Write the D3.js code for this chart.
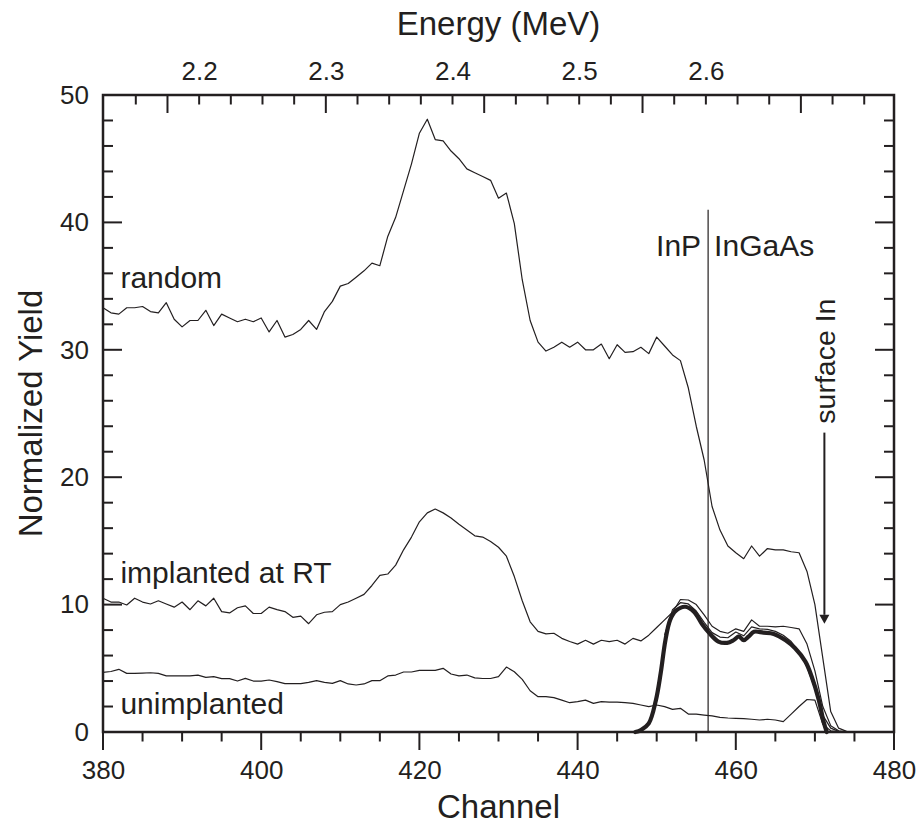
<!DOCTYPE html>
<html>
<head>
<meta charset="utf-8">
<script src="https://cdn.jsdelivr.net/npm/d3@7"></script>
<style>
  body { margin: 0; background: #fff; }
  text { font-family: "Liberation Sans", Arial, Helvetica, sans-serif; fill: #231f20; }
</style>
</head>
<body>
<div id="visual"></div>
<script>
// channels 380..475, one point per channel
let channels = d3.range(380, 476);

let randomYield = [
    33.3, 32.9, 32.8, 33.3, 33.3, 33.4, 33.0, 32.9, 33.7, 32.4,
    31.8, 32.3, 32.3, 33.1, 31.9, 32.8, 32.5, 32.2, 32.4, 32.2,
    32.5, 31.4, 32.3, 31.0, 31.2, 31.6, 32.3, 31.6, 33.0, 33.8,
    35.0, 35.2, 35.7, 36.2, 36.8, 36.6, 38.9, 40.4, 42.5, 44.6,
    47.0, 48.1, 46.5, 46.4, 45.6, 45.0, 44.2, 43.9, 43.6, 43.3,
    41.9, 42.3, 39.9, 35.5, 32.3, 30.6, 29.9, 30.2, 30.6, 30.2,
    30.6, 30.0, 30.0, 30.45, 29.3, 30.4, 29.8, 29.85, 30.2, 29.7,
    31.0, 30.3, 29.6, 29.15, 27.0, 24.0, 21.35, 17.7, 15.85, 14.6,
    14.07, 13.6, 14.6, 13.8, 14.4, 14.3, 14.3, 14.15, 14.07, 12.6,
    10.0, 5.8, 1.6, 0.3, 0.05, 0.0
];

let implantedYield = [
    10.5, 10.2, 10.2, 9.97, 10.5, 10.2, 10.05, 10.3, 10.05, 9.8,
    10.2, 9.6, 10.3, 9.9, 10.5, 9.45, 9.35, 9.75, 9.9, 9.3,
    9.3, 9.8, 9.6, 9.45, 9.0, 9.1, 8.5, 9.2, 9.4, 9.45,
    10.0, 10.2, 10.5, 10.8, 11.5, 12.3, 12.4, 13.1, 14.3, 15.3,
    16.5, 17.2, 17.5, 17.2, 16.8, 16.3, 15.85, 15.4, 15.3, 14.95,
    14.5, 13.8, 12.2, 10.3, 8.65, 7.9, 7.7, 7.75, 7.35, 7.1,
    6.9, 7.2, 6.9, 7.2, 7.1, 7.2, 6.9, 7.35, 7.15, 7.6,
    8.2, 8.8, 9.4, 10.4, 10.36, 10.0, 9.2, 8.3, 7.9, 7.75,
    8.1, 7.9, 8.8, 8.3, 8.3, 8.25, 8.3, 8.2, 8.1, 6.9,
    4.8, 2.0, 0.5, 0.1, 0.02, 0.0
];

let unimplantedYield = [
    4.68, 4.75, 4.92, 4.6, 4.6, 4.62, 4.65, 4.6, 4.4, 4.4,
    4.4, 4.4, 4.47, 4.29, 4.34, 4.19, 4.19, 4.0, 4.21, 4.0,
    4.0, 4.08, 3.95, 3.8, 3.79, 3.79, 3.9, 4.03, 3.9, 3.82,
    4.03, 3.77, 3.69, 3.77, 4.03, 4.03, 4.4, 4.47, 4.71, 4.71,
    4.84, 4.84, 4.84, 5.0, 4.55, 4.4, 4.47, 4.25, 4.2, 4.2,
    4.34, 5.1, 4.73, 4.13, 3.24, 2.77, 2.77, 2.7, 2.5, 2.3,
    2.38, 2.5, 2.25, 2.38, 2.35, 2.35, 2.3, 2.25, 2.12, 1.99,
    2.12, 1.99, 1.78, 1.86, 1.41, 1.41, 1.33, 1.26, 1.15, 1.1,
    1.07, 1.05, 1.0, 0.94, 1.0, 0.94, 0.81, 1.4, 2.0, 2.55,
    2.5, 0.6, 0.1, 0.02, 0.0, 0.0
];

// second thin curve hugging the thick one (channels 451..474)
let hugChannels = d3.range(451, 475);
let hugYield = [
    7.6, 9.6, 10.15, 10.05, 9.5, 8.6, 7.8, 7.45, 7.4, 7.85,
    7.55, 8.25, 8.1, 8.05, 7.9, 7.6, 7.1, 6.3, 5.1, 3.4,
    1.3, 0.3, 0.05, 0.0
];

// thick smooth curve
let thickChannels = [447.3, 448.0, 449.0, 449.9, 450.5, 451.1, 451.7, 452.4, 453.6, 454.7,
    455.7, 456.6, 457.8, 458.9, 459.7, 460.4, 461.0, 461.6, 462.3, 463.5,
    464.8, 466.3, 467.5, 468.8, 469.6, 470.5, 471.1, 471.5];
let thickYield = [0.0, 0.15, 0.68, 2.5, 4.6, 7.2, 8.8, 9.5, 9.83, 9.45,
    8.5, 7.8, 7.1, 7.0, 7.2, 7.5, 7.2, 7.48, 7.87, 7.8,
    7.7, 7.2, 6.57, 5.52, 4.34, 2.5, 0.8, 0.0];

// axis ticks
let channelLabels = [380, 400, 420, 440, 460, 480];
let channelMinor = d3.range(380, 481, 5);
let yieldLabels = [0, 10, 20, 30, 40, 50];
let yieldMinor = d3.range(0, 51, 2);
let energyLabels = [2.2, 2.3, 2.4, 2.5, 2.6];
let energyLong = [2.175, 2.3, 2.425, 2.55, 2.675];
let energyMinor = d3.range(2.15, 2.74, 0.025);
let energyRange = [2.1241, 2.7485]; // energy at channel 380 and 480

function rbsChart() {
    let width = 921,
        height = 829,
        margin = {top: 95, right: 27, bottom: 97, left: 103};
    const INK = "#231f20";

    let chart = function chart(selector) {
        let svg = d3.select(selector)
            .append("svg")
            .attr("width", width)
            .attr("height", height);

        let x = d3.scaleLinear().domain([380, 480]).range([margin.left, width - margin.right]);
        let y = d3.scaleLinear().domain([0, 50]).range([height - margin.bottom, margin.top]);
        let xE = d3.scaleLinear().domain(energyRange).range(x.range());

        let x0 = x.range()[0], x1 = x.range()[1], y0 = y.range()[0], y1 = y.range()[1];

        // tick labels through d3 axes (no tick lines here)
        function drawLabels(axis, tx, ty) {
            let g = svg.append("g")
                .attr("transform", "translate(" + tx + "," + ty + ")")
                .call(axis);
            g.select(".domain").remove();
            g.selectAll(".tick line").remove();
            g.selectAll(".tick text")
                .attr("fill", INK)
                .style("font-size", "26px")
                .style("font-family", "'Liberation Sans', Arial, sans-serif");
        }
        drawLabels(d3.axisBottom(x).tickValues(channelLabels).tickSize(18).tickPadding(10.5)
            .tickFormat(d3.format("d")), 0, y0);
        drawLabels(d3.axisLeft(y).tickValues(yieldLabels).tickSize(-19).tickPadding(14)
            .tickFormat(d3.format("d")), x0, 0);
        drawLabels(d3.axisTop(xE).tickValues(energyLabels).tickSize(0).tickPadding(15)
            .tickFormat(d3.format(".1f")), 0, y1);

        // frame
        svg.append("rect")
            .attr("x", x0).attr("y", y1)
            .attr("width", x1 - x0).attr("height", y0 - y1)
            .attr("fill", "none")
            .attr("stroke", INK)
            .attr("stroke-width", 2.5);

        // tick marks, drawn on top of the frame
        function tick(xa, ya, xb, yb) {
            svg.append("line")
                .attr("x1", xa).attr("y1", ya).attr("x2", xb).attr("y2", yb)
                .attr("stroke", INK)
                .attr("stroke-width", 2);
        }
        channelMinor.forEach(function (c) {
            tick(x(c), y0, x(c), y0 + (channelLabels.indexOf(c) >= 0 ? 18 : 9.5));
        });
        yieldMinor.forEach(function (v) {
            let len = yieldLabels.indexOf(v) >= 0 ? 19 : 10;
            tick(x0, y(v), x0 + len, y(v));
            tick(x1, y(v), x1 - len, y(v));
        });
        energyMinor.forEach(function (e) {
            let isLong = energyLong.some(function (l) { return Math.abs(l - e) < 1e-6; });
            tick(xE(e), y1, xE(e), y1 + (isLong ? 18 : 9.5));
        });

        // axis titles
        let cx = (x0 + x1) / 2;
        svg.append("text").attr("x", cx).attr("y", 35).attr("text-anchor", "middle")
            .style("font-size", "33px").text("Energy (MeV)");
        svg.append("text").attr("x", cx).attr("y", 818).attr("text-anchor", "middle")
            .style("font-size", "33px").text("Channel");
        svg.append("text")
            .attr("transform", "translate(42," + (y0 + y1) / 2 + ") rotate(-90)")
            .attr("text-anchor", "middle")
            .style("font-size", "33px").text("Normalized Yield");

        // spectra
        let line = d3.line()
            .x(function (d) { return x(d[0]); })
            .y(function (d) { return y(d[1]); });

        let series = [
            {ch: channels, v: randomYield},
            {ch: channels, v: implantedYield},
            {ch: channels, v: unimplantedYield},
            {ch: hugChannels, v: hugYield}
        ];
        series.forEach(function (s) {
            svg.append("path")
                .attr("d", line(d3.zip(s.ch, s.v)))
                .attr("fill", "none")
                .attr("stroke", INK)
                .attr("stroke-width", 1.2)
                .attr("stroke-linejoin", "round");
        });

        svg.append("path")
            .attr("d", line.curve(d3.curveCatmullRom)(d3.zip(thickChannels, thickYield)))
            .attr("fill", "none")
            .attr("stroke", INK)
            .attr("stroke-width", 4.2)
            .attr("stroke-linecap", "round")
            .attr("stroke-linejoin", "round");

        // InP / InGaAs interface
        svg.append("line")
            .attr("x1", x(456.5)).attr("x2", x(456.5))
            .attr("y1", y(41)).attr("y2", y0)
            .attr("stroke", INK).attr("stroke-width", 1.2);

        svg.append("text").attr("x", x(456.5) - 7).attr("y", y(37.4))
            .attr("text-anchor", "end").style("font-size", "30px").text("InP");
        svg.append("text").attr("x", x(456.5) + 6).attr("y", y(37.4))
            .style("font-size", "30px").text("InGaAs");

        // curve labels
        let labels = [
            {t: "random", v: 34.85},
            {t: "implanted at RT", v: 11.7},
            {t: "unimplanted", v: 1.45}
        ];
        svg.selectAll(".clab").data(labels).enter().append("text")
            .attr("x", x(382.2))
            .attr("y", function (d) { return y(d.v); })
            .style("font-size", "30px")
            .text(function (d) { return d.t; });

        // surface In arrow
        let ax = x(471.2);
        svg.append("text")
            .attr("transform", "translate(" + (ax + 11) + "," + y(24.2) + ") rotate(-90)")
            .style("font-size", "28.5px")
            .text("surface In");
        svg.append("line")
            .attr("x1", ax).attr("x2", ax)
            .attr("y1", y(23.5)).attr("y2", y(9.2))
            .attr("stroke", INK).attr("stroke-width", 2);
        svg.append("path")
            .attr("d", "M" + (ax - 5) + "," + y(9.2) + "L" + (ax + 5) + "," + y(9.2) + "L" + ax + "," + y(8.5) + "Z")
            .attr("fill", INK);
    };

    return chart;
}

try {
    let myChart = rbsChart();
    myChart("#visual");
} catch (err) {
    console.log(err);
}
</script>
</body>
</html>
